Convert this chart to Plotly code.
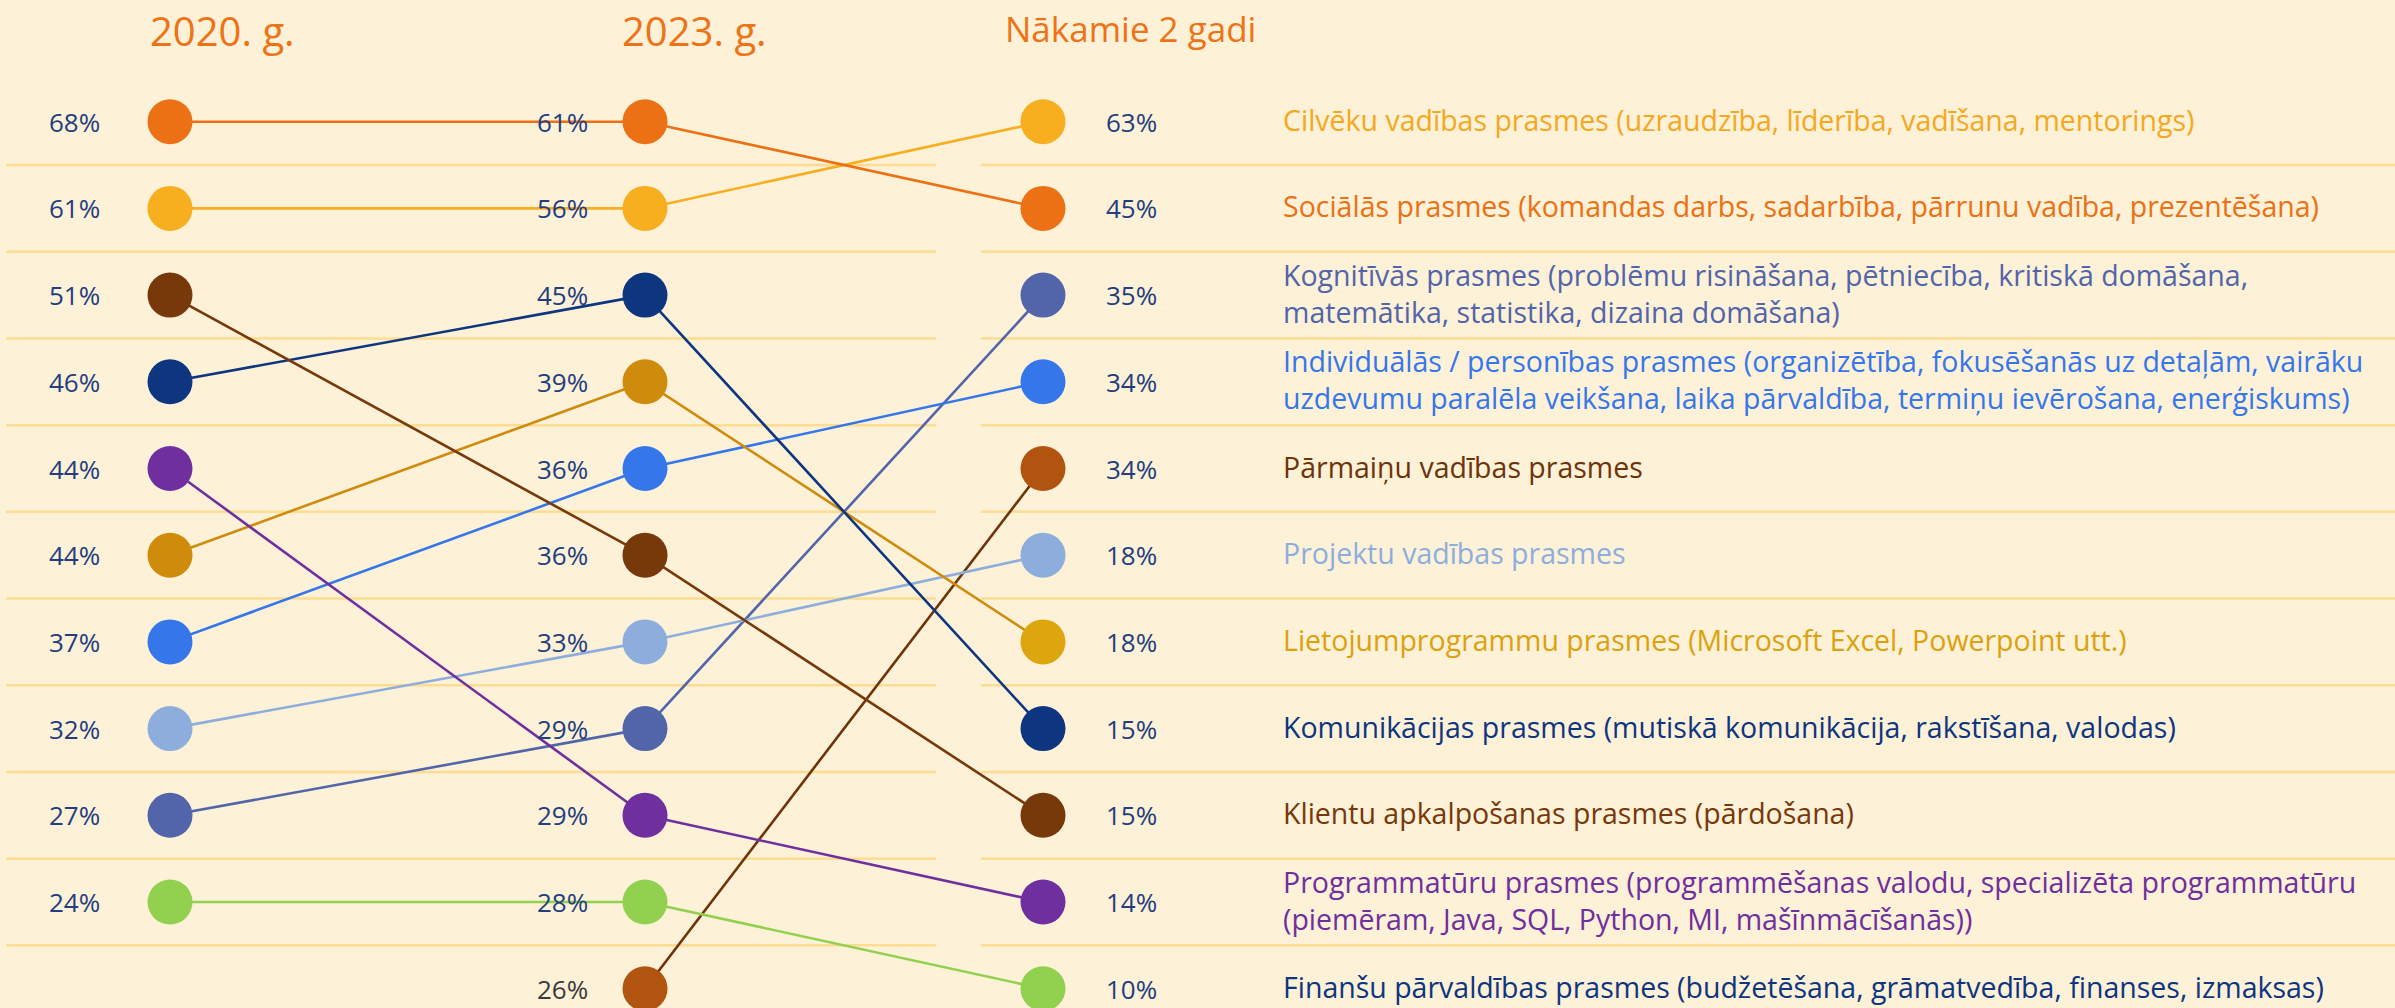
import plotly.graph_objects as go

W, H = 2395, 1008

# ---------------- data ----------------
categories = [
    "Cilvēku vadības prasmes (uzraudzība, līderība, vadīšana, mentorings)",
    "Sociālās prasmes (komandas darbs, sadarbība, pārrunu vadība, prezentēšana)",
    "Kognitīvās prasmes (problēmu risināšana, pētniecība, kritiskā domāšana,<br>matemātika, statistika, dizaina domāšana)",
    "Individuālās / personības prasmes (organizētība, fokusēšanās uz detaļām, vairāku<br>uzdevumu paralēla veikšana, laika pārvaldība, termiņu ievērošana, enerģiskums)",
    "Pārmaiņu vadības prasmes",
    "Projektu vadības prasmes",
    "Lietojumprogrammu prasmes (Microsoft Excel, Powerpoint utt.)",
    "Komunikācijas prasmes (mutiskā komunikācija, rakstīšana, valodas)",
    "Klientu apkalpošanas prasmes (pārdošana)",
    "Programmatūru prasmes (programmēšanas valodu, specializēta programmatūru<br>(piemēram, Java, SQL, Python, MI, mašīnmācīšanās))",
    "Finanšu pārvaldības prasmes (budžetēšana, grāmatvedība, finanses, izmaksas)",
]
keys = ["cilveku", "socialas", "kognitivas", "individualas", "parmainu", "projektu",
        "lietojum", "komunikacijas", "klientu", "programmaturu", "finansu"]

periods = ["2020. g.", "2023. g.", "Nākamie 2 gadi"]

# display order (top to bottom) and values for each period
order_2020 = ["socialas", "cilveku", "klientu", "komunikacijas", "programmaturu", "lietojum",
              "individualas", "projektu", "kognitivas", "finansu"]
values_2020 = [68, 61, 51, 46, 44, 44, 37, 32, 27, 24]

order_2023 = ["socialas", "cilveku", "komunikacijas", "lietojum", "individualas", "klientu",
              "projektu", "kognitivas", "programmaturu", "finansu", "parmainu"]
values_2023 = [61, 56, 45, 39, 36, 36, 33, 29, 29, 28, 26]

order_next = ["cilveku", "socialas", "kognitivas", "individualas", "parmainu", "projektu",
              "lietojum", "komunikacijas", "klientu", "programmaturu", "finansu"]
values_next = [63, 45, 35, 34, 34, 18, 18, 15, 15, 14, 10]

# ---------------- styles ----------------
BG = "#FDF1D8"
GRID = "#FEDC92"
ORANGE = "#EE7316"
PCT = "#233E7E"
FONT = "Open Sans"

dot_color = {
    "cilveku": "#F7AF20", "socialas": "#EC7014", "kognitivas": "#5265AA",
    "individualas": "#3577EB", "parmainu": "#B0540F", "projektu": "#8DAEDD",
    "lietojum": "#CF8B0B", "komunikacijas": "#0E3580", "klientu": "#77380A",
    "programmaturu": "#6F2F9E", "finansu": "#92D050",
}
next_dot_color = dict(dot_color, lietojum="#DEA60E")
line_color = dict(dot_color, parmainu="#6E3408")
text_color = dict(dot_color, cilveku="#F5A81E", parmainu="#6E3408",
                  lietojum="#DBA20E", finansu="#0E3580")

COL_X = [170, 645, 1043]       # pixel positions of the three columns
PCT_X = [47, 535, 1104]        # left edge of percentage labels
LABEL_X = 1281
ROW0, ROWH = 121.7, 86.7

cols = [(order_2020, values_2020), (order_2023, values_2023), (order_next, values_next)]
rank = [{k: i for i, k in enumerate(o)} for o, _ in cols]

fig = go.Figure()

# gridlines between rows
shapes = []
for i in range(10):
    yv = i + 0.5
    shapes.append(dict(type="line", xref="x", yref="y", x0=6, x1=936, y0=yv, y1=yv,
                       line=dict(color=GRID, width=2.5), layer="below"))
    shapes.append(dict(type="line", xref="x", yref="y", x0=981, x1=W, y0=yv, y1=yv,
                       line=dict(color=GRID, width=2.5), layer="below"))

# connecting lines
for k in keys:
    xs, ys = [], []
    for c in range(3):
        if k in rank[c]:
            xs.append(COL_X[c])
            ys.append(rank[c][k])
    for j in range(len(xs) - 1):
        fig.add_trace(go.Scatter(x=xs[j:j + 2], y=ys[j:j + 2], mode="lines",
                                 line=dict(color=line_color[k], width=2.6),
                                 hoverinfo="skip", showlegend=False))

# dots
for c, (order, vals) in enumerate(cols):
    cmap = next_dot_color if c == 2 else dot_color
    fig.add_trace(go.Scatter(
        x=[COL_X[c]] * len(order), y=list(range(len(order))), mode="markers",
        marker=dict(size=45, color=[cmap[k] for k in order], line=dict(width=0)),
        hoverinfo="skip", showlegend=False))

# percent labels
annotations = []
for c, (order, vals) in enumerate(cols):
    for i, (k, v) in enumerate(zip(order, vals)):
        col = "#3A3A3A" if (c == 1 and k == "parmainu") else PCT
        annotations.append(dict(x=PCT_X[c], y=i, xref="x", yref="y", text=f"{v}%",
                                showarrow=False, xanchor="left", yanchor="middle",
                                font=dict(family=FONT, size=26, color=col)))

# category labels (right side)
for i, k in enumerate(order_next):
    annotations.append(dict(x=LABEL_X, y=i, xref="x", yref="y",
                            text=categories[keys.index(k)],
                            showarrow=False, xanchor="left", yanchor="middle", align="left",
                            yshift=2,
                            font=dict(family=FONT, size=28.5, color=text_color[k])))

# headers
annotations.append(dict(x=148, y=-1.05, xref="x", yref="y", text=periods[0], showarrow=False,
                        xanchor="left", yanchor="middle",
                        font=dict(family=FONT, size=40, color=ORANGE)))
annotations.append(dict(x=620, y=-1.05, xref="x", yref="y", text=periods[1], showarrow=False,
                        xanchor="left", yanchor="middle",
                        font=dict(family=FONT, size=40, color=ORANGE)))
annotations.append(dict(x=1003, y=-1.08, xref="x", yref="y", text=periods[2], showarrow=False,
                        xanchor="left", yanchor="middle",
                        font=dict(family=FONT, size=35, color=ORANGE)))

fig.update_layout(
    width=W, height=H,
    margin=dict(l=0, r=0, t=0, b=0),
    paper_bgcolor=BG, plot_bgcolor=BG,
    xaxis=dict(range=[0, W], visible=False, fixedrange=True),
    yaxis=dict(range=[(H - ROW0) / ROWH, -ROW0 / ROWH], visible=False, fixedrange=True),
    shapes=shapes, annotations=annotations,
    showlegend=False,
)

fig.write_html(
    "out.html",
    config={"displayModeBar": False},
    post_script="document.body.style.margin='0';document.body.style.background='%s';"
                "document.body.style.overflow='hidden';" % BG,
)
